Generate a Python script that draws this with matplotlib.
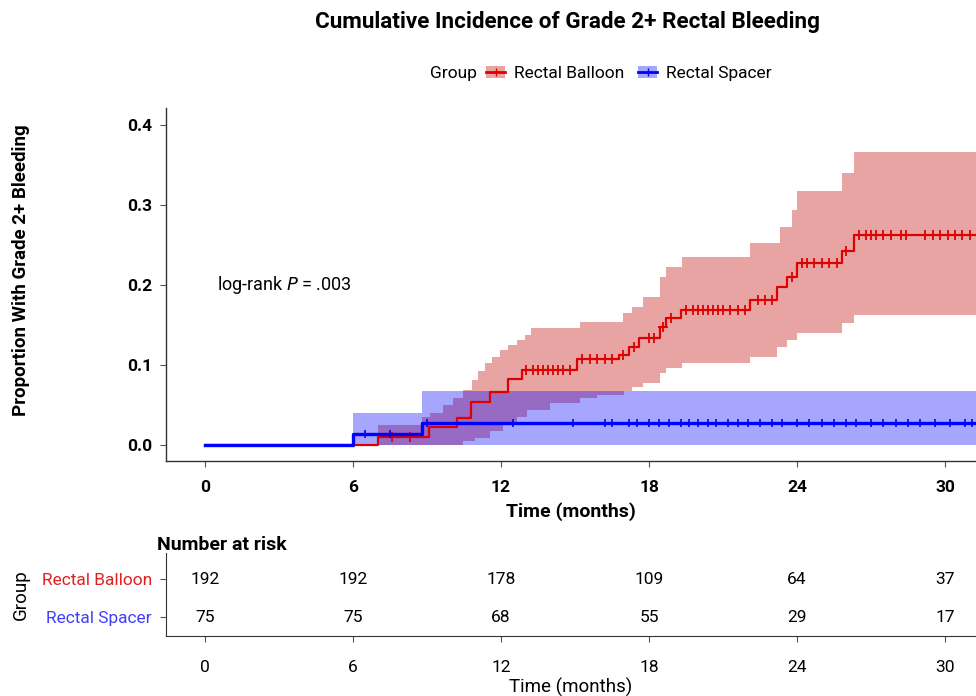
import numpy as np
import matplotlib
matplotlib.use("Agg")
import matplotlib.pyplot as plt
from matplotlib.patches import Patch
from matplotlib.lines import Line2D

plt.rcParams['font.family'] = ['Roboto', 'DejaVu Sans']

# Rectal balloon: cumulative incidence (step, post) and 95% CI
balloon_t = [0, 7.0, 9.1, 10.2, 10.8, 11.55, 12.3, 12.85, 15.1, 16.8, 17.2, 17.6,
             18.45, 18.7, 19.3, 22.1, 23.2, 23.6, 24.0, 25.8, 26.3]
balloon_y = [0, 0.0105, 0.0225, 0.034, 0.054, 0.066, 0.082, 0.094, 0.107, 0.113, 0.123, 0.134,
             0.148, 0.159, 0.169, 0.181, 0.198, 0.21, 0.227, 0.242, 0.2625]
balloon_up_t = [0, 7.0, 8.8, 9.12, 9.65, 10.05, 10.47, 10.81, 11.07, 11.35, 11.62, 11.96,
                12.3, 12.63, 12.97, 13.2, 15.2, 16.96, 17.3, 17.76, 18.44, 18.7, 19.32,
                22.1, 23.3, 23.8, 24.0, 25.8, 26.3]
balloon_up = [0, 0.025, 0.035, 0.04, 0.05, 0.059, 0.069, 0.081, 0.092, 0.102, 0.110, 0.119,
              0.125, 0.131, 0.1375, 0.146, 0.154, 0.165, 0.173, 0.185, 0.21, 0.223, 0.235,
              0.252, 0.273, 0.294, 0.317, 0.34, 0.366]
balloon_lo_t = [0, 10.47, 10.95, 11.55, 12.1, 12.63, 13.04, 13.98, 15.2, 15.88, 17.0, 17.3,
                17.76, 18.44, 18.7, 19.32, 22.1, 23.2, 23.6, 24.0, 25.8, 26.3]
balloon_lo = [0, 0.005, 0.009, 0.017, 0.025, 0.035, 0.044, 0.052, 0.059, 0.063, 0.067, 0.073,
              0.077, 0.09, 0.096, 0.1025, 0.11, 0.123, 0.131, 0.14, 0.152, 0.1625]
balloon_censor = [7.6, 8.3, 13.0, 13.3, 13.5, 13.7, 13.9, 14.1, 14.3, 14.5, 14.8,
                  15.3, 15.6, 15.9, 16.2, 16.5, 16.95, 17.4, 18.0, 18.2, 18.55, 18.9,
                  19.5, 19.8, 20.0, 20.2, 20.4, 20.6, 20.8, 21.0, 21.3, 21.6, 21.9,
                  22.4, 22.7, 23.0, 23.8, 24.2, 24.4, 24.7, 25.0, 25.3, 25.6, 26.0,
                  26.5, 26.8, 27.0, 27.2, 27.5, 27.8, 28.2, 28.4, 29.2, 29.5, 29.8,
                  30.1, 30.4, 30.7, 31.0]

# Rectal spacer
spacer_t = [0, 6.0, 8.8]
spacer_y = [0, 0.0135, 0.028]
spacer_up = [0, 0.04, 0.067]
spacer_lo = [0, 0, 0]
spacer_censor = [6.5, 7.5, 9.0, 12.5, 14.9, 16.2, 16.5, 17.2, 17.5, 18.0, 18.4, 18.8,
                 19.3, 19.6, 20.0, 20.4, 20.7, 21.2, 21.6, 22.0, 22.5, 23.0, 23.4, 24.0,
                 24.5, 25.0, 25.5, 26.0, 26.4, 27.0, 27.5, 28.0, 28.5, 29.0, 29.6, 30.2,
                 30.8, 31.1]

# Number at risk
risk_times = [0, 6, 12, 18, 24, 30]
risk_balloon = [192, 192, 178, 109, 64, 37]
risk_spacer = [75, 75, 68, 55, 29, 17]

XMIN, XMAX = -1.58, 31.25
RED = '#E00000'
BLUE = '#0000FF'


def ext(t, y):
    return np.append(t, XMAX), np.append(y, y[-1])


def at(t, y, x):
    idx = np.searchsorted(t, x, side='right') - 1
    return np.asarray(y)[idx]


fig = plt.figure(figsize=(9.76, 6.96), dpi=100)
ax = fig.add_axes([0.170, 0.3376, 0.830, 0.507])

# bands
grid = np.unique(np.concatenate([balloon_up_t, balloon_lo_t, [XMAX]]))
ax.fill_between(grid, at(balloon_lo_t, balloon_lo, grid), at(balloon_up_t, balloon_up, grid),
                step='post', color='#CC3333', alpha=0.45, lw=0)
st, su = ext(spacer_t, spacer_up)
_, sl = ext(spacer_t, spacer_lo)
ax.fill_between(st, sl, su, step='post', color=BLUE, alpha=0.35, lw=0)

# curves
bt, by = ext(balloon_t, balloon_y)
ax.step(bt, by, where='post', color=RED, lw=1.6)
ax.plot(balloon_censor, at(balloon_t, balloon_y, balloon_censor), ls='none',
        marker='+', ms=7, mew=1.3, color=RED)
st, sy = ext(spacer_t, spacer_y)
ax.step(st, sy, where='post', color=BLUE, lw=2.4)
ax.plot(spacer_censor, at(spacer_t, spacer_y, spacer_censor), ls='none',
        marker='|', ms=6, mew=1.2, color=BLUE)

ax.set_xlim(XMIN, XMAX)
ax.set_ylim(-0.02, 0.421)
ax.set_xticks(risk_times)
ax.set_yticks([0, 0.1, 0.2, 0.3, 0.4])
ax.set_yticklabels(['0.0', '0.1', '0.2', '0.3', '0.4'])
for s in ['top', 'right']:
    ax.spines[s].set_visible(False)
for s in ['left', 'bottom']:
    ax.spines[s].set_color('#333333')
    ax.spines[s].set_linewidth(1.0)
ax.tick_params(colors='#555555', length=4, labelcolor='black', labelsize=12.5)
ax.tick_params(axis='x', pad=10)
ax.tick_params(axis='y', pad=6)
for lab in ax.get_xticklabels() + ax.get_yticklabels():
    lab.set_fontweight('bold')
ax.set_xlabel('Time (months)', fontsize=14, fontweight='bold', labelpad=5)
ax.set_ylabel('Proportion With Grade 2+ Bleeding', fontsize=13.5, fontweight='bold')
ax.yaxis.set_label_coords(-0.168, 0.541)
ax.text(0.5, 0.2, 'log-rank $\\it{P}$ = .003', fontsize=13, va='center', ha='left',
        transform=ax.transData)

fig.text(0.581, 0.968, 'Cumulative Incidence of Grade 2+ Rectal Bleeding',
         ha='center', va='center', fontsize=16.2, fontweight='bold')

# legend
fig.text(0.441, 0.895, 'Group', ha='left', va='center', fontsize=12.5)
handles = [(Patch(facecolor='#CC3333', alpha=0.45, lw=0), Line2D([], [], color=RED, lw=2, marker='+', ms=6)),
           (Patch(facecolor=BLUE, alpha=0.35, lw=0), Line2D([], [], color=BLUE, lw=2, marker='|', ms=6))]
fig.legend(handles, ['Rectal Balloon', 'Rectal Spacer'], loc='center left',
           bbox_to_anchor=(0.482, 0.895), ncol=2, frameon=False, fontsize=12.5,
           handlelength=1.1, handletextpad=0.5, columnspacing=0.8)

# risk table
rt = fig.add_axes([0.170, 0.0862, 0.830, 0.119])
for x, n in zip(risk_times, risk_balloon):
    rt.text(x, 1, str(n), ha='center', va='center', fontsize=12.5)
for x, n in zip(risk_times, risk_spacer):
    rt.text(x, 0, str(n), ha='center', va='center', fontsize=12.5)
rt.set_xlim(XMIN, XMAX)
rt.set_ylim(-0.5, 1.68)
rt.set_xticks(risk_times)
rt.set_yticks([1, 0])
for s in ['top', 'right']:
    rt.spines[s].set_visible(False)
for s in ['left', 'bottom']:
    rt.spines[s].set_color('#333333')
rt.tick_params(colors='#555555', length=4, labelsize=12.5, labelcolor='black')
rt.tick_params(axis='x', pad=13)
rt.tick_params(axis='y', pad=6)
rt.set_yticklabels(['Rectal Balloon', 'Rectal Spacer'])
rt.get_yticklabels()[0].set_color('#E02020')
rt.get_yticklabels()[1].set_color('#4040FF')
rt.set_xlabel('Time (months)', fontsize=13.5, labelpad=2)
rt.set_ylabel('Group', fontsize=13.5)
rt.yaxis.set_label_coords(-0.168, 0.5)
fig.text(0.161, 0.217, 'Number at risk', ha='left', va='center', fontsize=14, fontweight='bold')

fig.savefig('out.png', dpi=100)
